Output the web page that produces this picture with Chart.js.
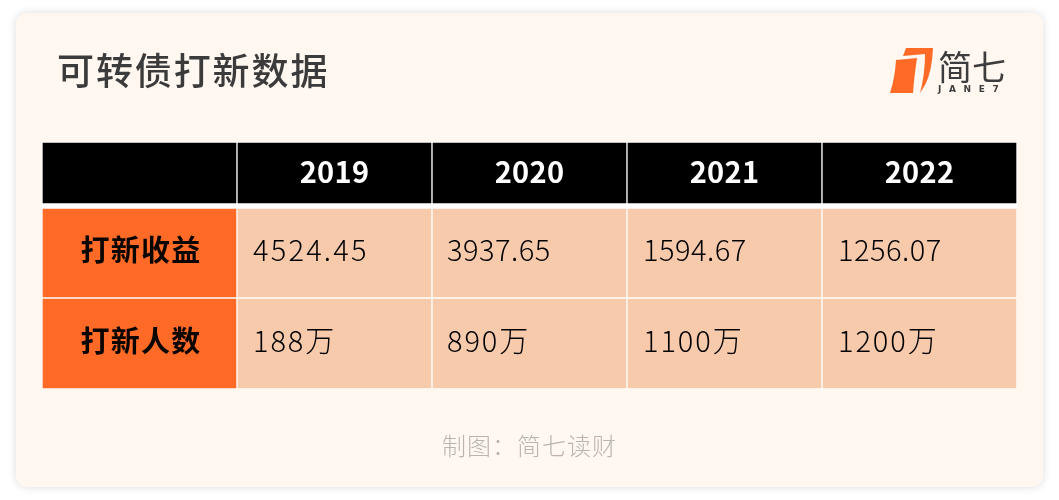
<!DOCTYPE html>
<html lang="zh">
<head>
<meta charset="utf-8">
<title>可转债打新数据</title>
<script src="https://cdn.jsdelivr.net/npm/chart.js@4"></script>
<style>
html, body { margin: 0; padding: 0; background: #fff; }
body { width: 1059px; height: 500px; position: relative; overflow: hidden; font-family: "Noto Sans CJK SC", "Noto Sans", sans-serif; }
#card { position: absolute; left: 16px; top: 13px; width: 1027px; height: 474px; background: #fff7f0; border-radius: 11px; box-shadow: 0 0 8px rgba(0,0,0,0.14); }
#grafica { position: absolute; left: 0; top: 0; }
#titulo { position: absolute; left: 57px; top: 42px; font-size: 37px; line-height: 54px; font-weight: 500; letter-spacing: 1.9px; color: #3b3b3b; white-space: nowrap; }
#pie { position: absolute; left: 442px; top: 427px; font-size: 24px; line-height: 36px; font-weight: 300; letter-spacing: 1px; color: #b8b5b1; white-space: nowrap; }
#logo { position: absolute; left: 880px; top: 40px; }
</style>
</head>
<body>
<div id="card"></div>
<canvas id="grafica" width="1059" height="500"></canvas>
<div id="titulo">可转债打新数据</div>
<div id="pie">制图：简七读财</div>
<svg id="logo" width="140" height="60" viewBox="880 40 140 60">
  <path fill="#ff6a26" d="M896 60 L917 58 Q914 78 913 93 L890 93 Q895 78 896 60 Z"/>
  <path fill="#ff6a26" d="M906 48 L933 48 Q932 72 925 85 Q922 90 920 93 Q925 75 925 54 L903 56 Z"/>
  <text x="938" y="80" font-family="Noto Sans CJK SC" font-weight="400" font-size="34" fill="#3d3d3d">简七</text>
  <text x="938" y="92" font-family="DejaVu Sans" font-weight="700" font-size="9" letter-spacing="7.6" fill="#3d3d3d">JANE7</text>
</svg>
<script>
// datos de la tabla
const anios = ["2019", "2020", "2021", "2022"];
const filas = ["打新收益", "打新人数"];
const ganancias = ["4524.45", "3937.65", "1594.67", "1256.07"];
const personas = ["188万", "890万", "1100万", "1200万"];

// alturas de las filas en px (cabecera, fila 1, fila 2)
const alturas = [66, 90, 91];
const columnas = [""].concat(anios);
const negro = "#000000";
const naranja = "#ff6a26";
const salmon = "#f7caac";

function colorFila(primero, resto) {
    return columnas.map((c, i) => i === 0 ? primero : resto);
}

const textoTabla = {
    id: "textoTabla",
    afterDatasetsDraw(chart) {
        let ctx = chart.ctx;
        let celdas = [
            { meta: chart.getDatasetMeta(0), textos: [""].concat(anios) },
            { meta: chart.getDatasetMeta(1), textos: [filas[0]].concat(ganancias) },
            { meta: chart.getDatasetMeta(2), textos: [filas[1]].concat(personas) }
        ];
        ctx.save();
        ctx.textBaseline = "middle";
        celdas.forEach((fila, f) => {
            fila.meta.data.forEach((barra, c) => {
                let p = barra.getProps(["x", "y", "base", "width"], true);
                // la escala y va invertida: la parte de arriba es el menor
                let arriba = Math.min(p.y, p.base);
                let abajo = Math.max(p.y, p.base);
                let medio = (arriba + abajo) / 2;
                if (f === 0) {
                    ctx.fillStyle = "#ffffff";
                    ctx.font = "700 29px 'Noto Sans CJK SC'";
                    ctx.letterSpacing = "0.3px";
                    ctx.textAlign = "center";
                    ctx.fillText(fila.textos[c], p.x, arriba + 30);
                } else if (c === 0) {
                    ctx.fillStyle = "#0b0500";
                    ctx.font = "700 29px 'Noto Sans CJK SC'";
                    ctx.letterSpacing = "1.3px";
                    ctx.textAlign = "center";
                    ctx.fillText(fila.textos[c], p.x + 1.5, medio - 3);
                } else {
                    // la primera columna de numeros va mas espaciada
                    let espacio = f === 2 ? "1.9px" : (c === 1 ? "2.2px" : "0.5px");
                    let margen = c === 2 ? 15 : 16;
                    ctx.fillStyle = "#000000";
                    ctx.font = "300 29px 'Noto Sans CJK SC'";
                    ctx.letterSpacing = espacio;
                    ctx.textAlign = "left";
                    ctx.fillText(fila.textos[c], p.x - p.width / 2 + margen, medio - 3);
                }
            });
        });
        ctx.restore();
    }
};

function crearTabla() {
    let lienzo = document.getElementById("grafica");
    let borde = { top: 1, left: 1, right: 1, bottom: 1 };
    new Chart(lienzo, {
        type: "bar",
        data: {
            labels: columnas,
            datasets: [
                {
                    data: columnas.map(() => alturas[0]),
                    backgroundColor: negro,
                    borderWidth: { top: 1, left: 1, right: 1, bottom: 5 }
                },
                {
                    data: columnas.map(() => alturas[1]),
                    backgroundColor: colorFila(naranja, salmon),
                    borderWidth: borde
                },
                {
                    data: columnas.map(() => alturas[2]),
                    backgroundColor: colorFila(naranja, salmon),
                    borderWidth: borde
                }
            ].map(d => Object.assign(d, {
                borderColor: "#ffffff",
                borderSkipped: false,
                barPercentage: 1,
                categoryPercentage: 1
            }))
        },
        options: {
            responsive: false,
            animation: false,
            layout: { padding: { left: 42, right: 42, top: 142, bottom: 111 } },
            plugins: { legend: { display: false }, tooltip: { enabled: false }, title: { display: false } },
            scales: {
                x: { stacked: true, display: false },
                y: { stacked: true, display: false, reverse: true, min: 0, max: 247 }
            }
        },
        plugins: [textoTabla]
    });
}

crearTabla();
</script>
</body>
</html>
